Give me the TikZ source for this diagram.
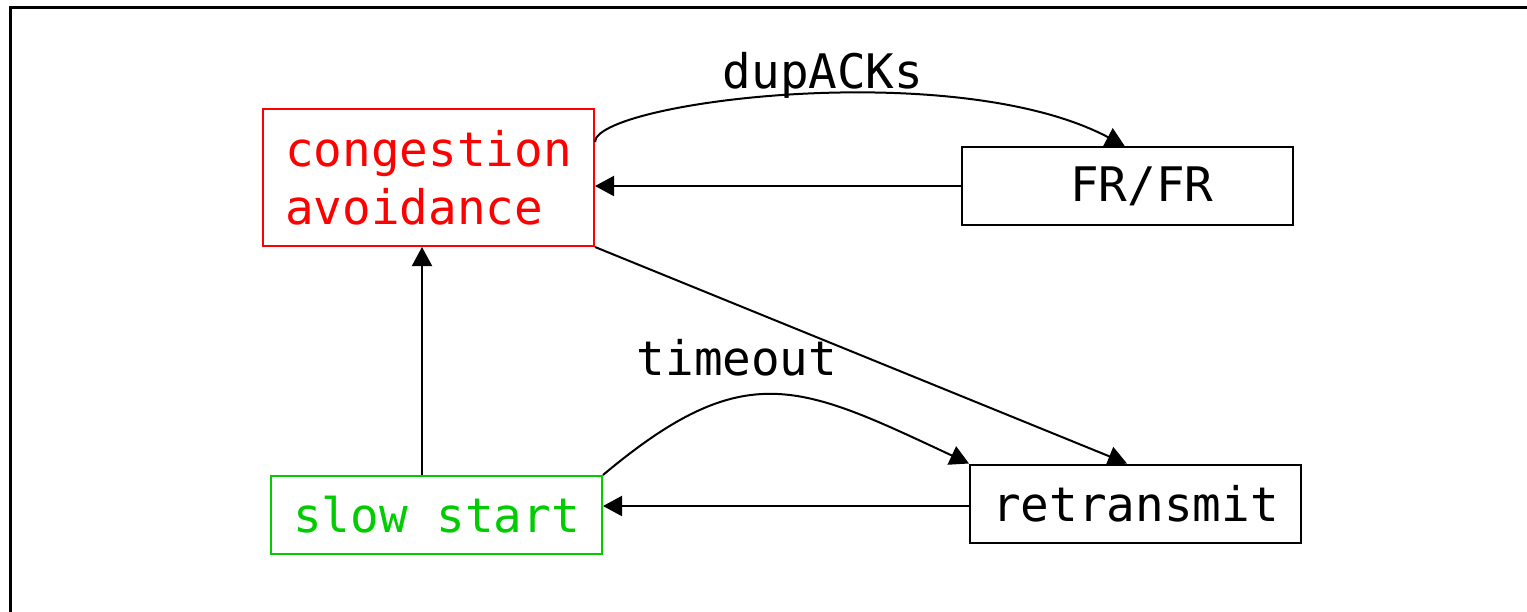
\documentclass[tikz,border=0pt]{standalone}
\usepackage{fontspec}
\setmonofont{DejaVu Sans Mono}
\usetikzlibrary{arrows.meta}
\definecolor{cared}{RGB}{255,0,0}
\definecolor{ssgreen}{RGB}{0,204,0}

\begin{document}
\begin{tikzpicture}[
    x=0.5pt, y=-0.5pt,
    state/.style={draw, line width=1pt, minimum width=165.5pt, minimum height=39pt, inner sep=0pt, font=\ttfamily\fontsize{23.8}{29}\selectfont},
    lbl/.style={inner sep=0pt, anchor=base, font=\ttfamily\fontsize{23.8}{29}\selectfont},
    edge/.style={-{Triangle[length=9.5pt,width=10pt]}, line width=1pt} % transition arrows
]
\clip (0,0) rectangle (1527,611);

% outer frame
\draw[line width=1.5pt] (10.5,7.5) rectangle (1560,650);

% states
\node[state, draw=cared, text=cared, minimum height=68.5pt, align=left] (ca) at (428.5,177.5) {congestion\\avoidance};
\node[state] (fr) at (1127.5,186) {\hspace*{0.6em}FR/FR};
\node[state, draw=ssgreen, text=ssgreen] (ss) at (436.5,515) {slow start};
\node[state] (rt) at (1135.5,503.5) {retransmit};

% transitions
\draw[edge] (ca.12.8) .. controls +(0,-40) and +(-170,-90) .. (fr.94);
\draw[edge] (fr.west) -- (fr.west -| ca.east);
\draw[edge] (ca.south east) -- (rt.102);
\draw[edge] ([xshift=-7.25pt]ss.north) -- ([xshift=-3.25pt]ca.south);
\draw[edge] (ss.north east) to[out=40, in=155, looseness=1.3] (rt.north west);
\draw[edge] ([yshift=-1.25pt]rt.west) -- ([yshift=-1.25pt]rt.west -| ss.east);

% labels
\node[lbl] (dup) at (823,88) {dupACKs};
\node[lbl] (tmo) at (737,375) {timeout};
\end{tikzpicture}
\end{document}
